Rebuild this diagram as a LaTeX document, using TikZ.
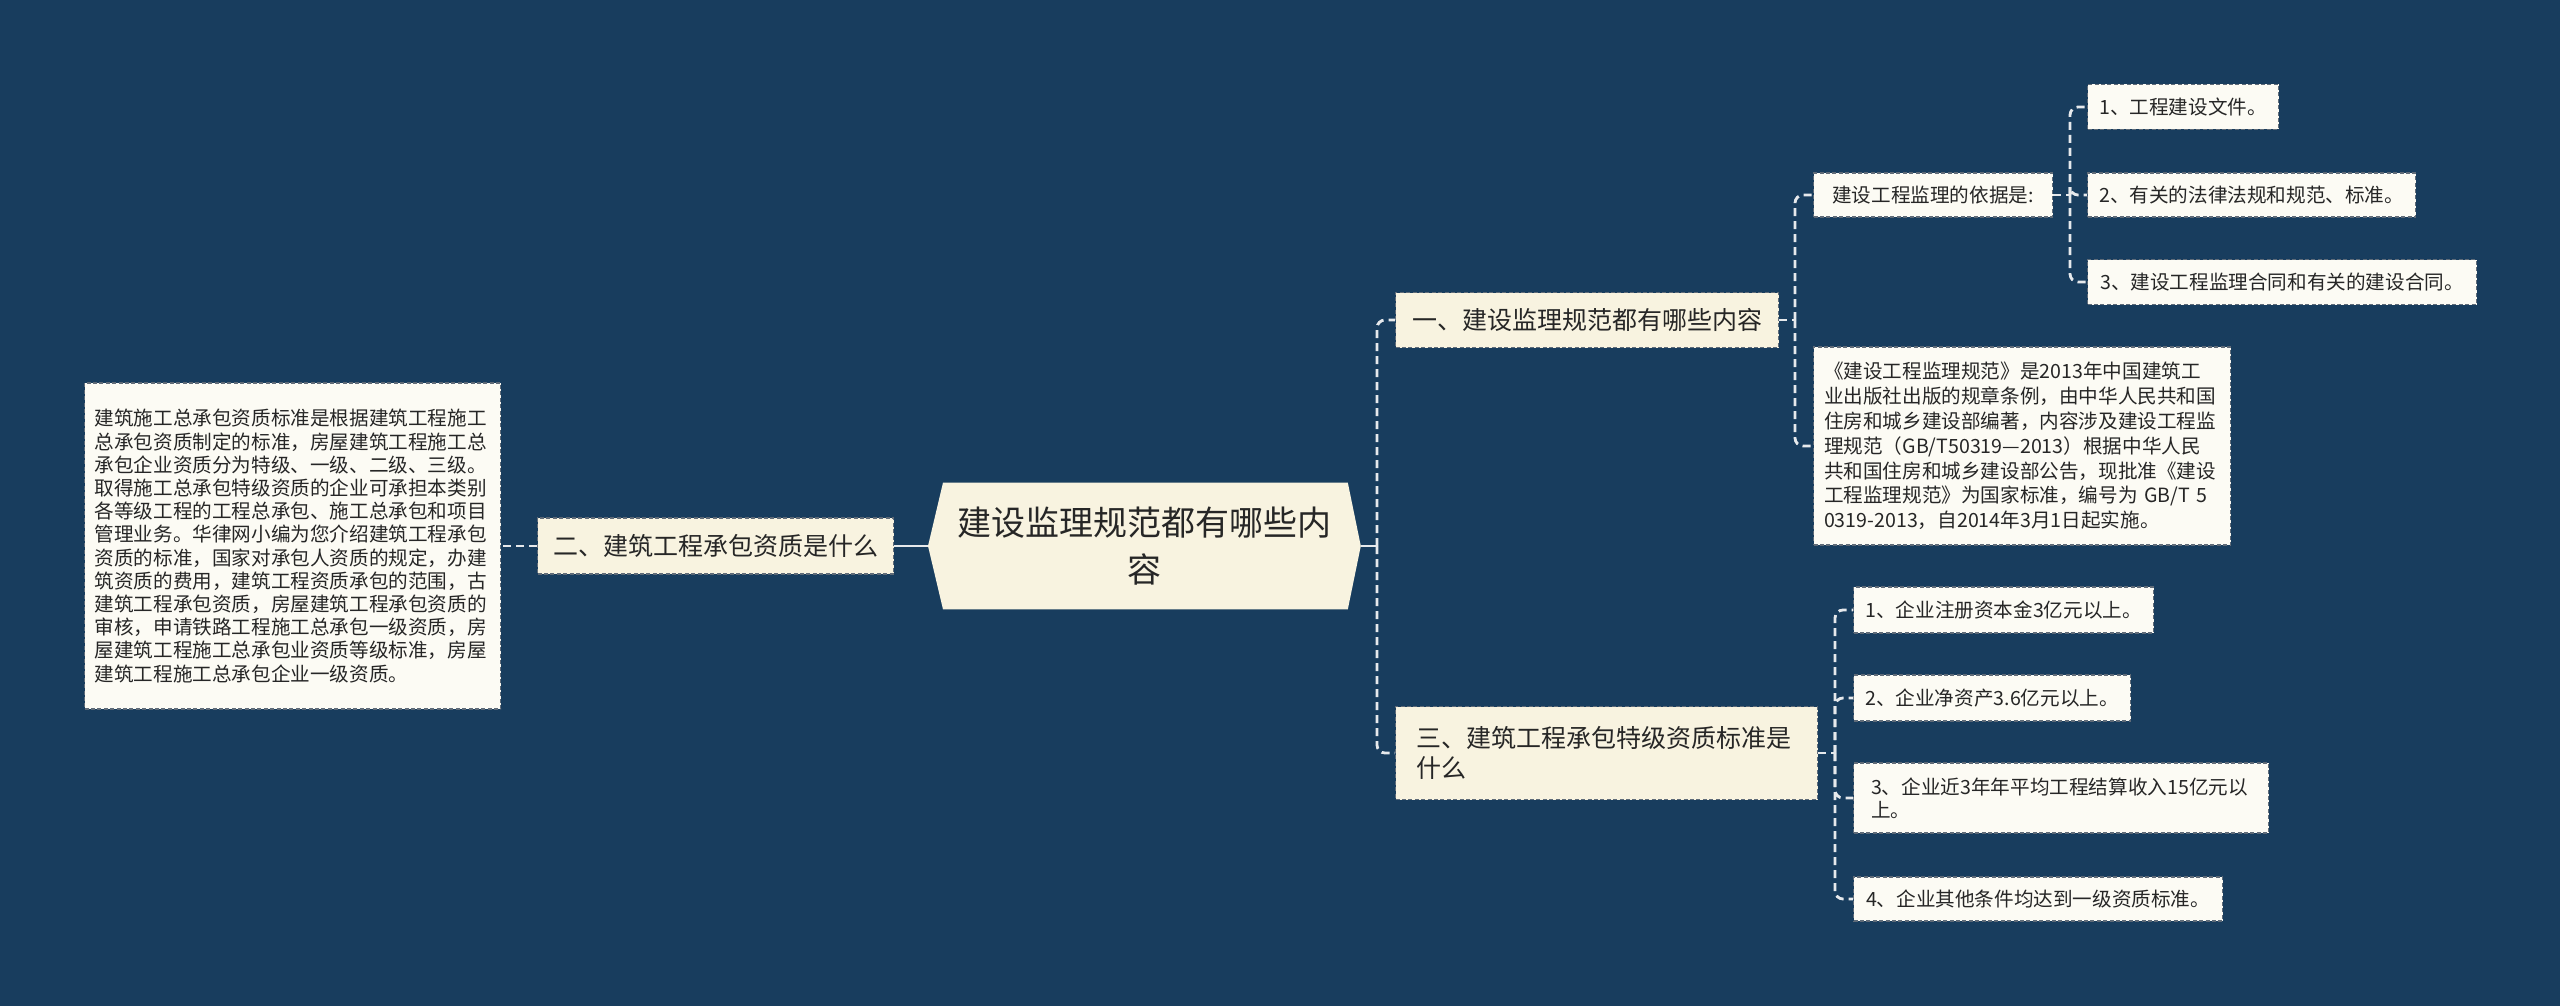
\documentclass[tikz,border=0pt]{standalone}
\usepackage{fontspec}
\setmainfont{Noto Sans CJK SC}
\usepackage{tikz}
\usetikzlibrary{positioning,calc,backgrounds}
\definecolor{bgnavy}{HTML}{183D5E}
\definecolor{cream}{HTML}{F8F3E0}
\definecolor{paper}{HTML}{FCFBF4}
\definecolor{edge}{HTML}{5F6B78}
\definecolor{wire}{HTML}{E6E9EC}
\definecolor{ink}{HTML}{262626}

\begin{document}
\begin{tikzpicture}[x=0.5pt,y=-0.5pt,
  box/.style={anchor=west,inner sep=0pt,text=ink,draw=edge,line width=0.6pt,dash pattern=on 2pt off 1.2pt},
  hub/.style={anchor=west,inner sep=0pt,text=ink,font=\fontsize{17pt}{23.5pt}\selectfont,minimum width=216pt,minimum height=63pt,text width=190pt,align=center},
  topic/.style={box,fill=cream,font=\fontsize{12.5pt}{15pt}\selectfont},
  leaf/.style={box,fill=paper,font=\fontsize{9.8pt}{11.6pt}\selectfont},
  note/.style={leaf,text width=198pt,align=left},
  solidlink/.style={draw=wire,line width=1.4pt},
  dashlink/.style={draw=wire,line width=1.4pt,dash pattern=on 4pt off 2.5pt,rounded corners=4pt}]
  \useasboundingbox (0,0) rectangle (2560,1006);

  % centre and left side
  \node[hub] (root) at (928,546) {建设监理规范都有哪些内\\容};
  \node[topic,minimum width=178pt,minimum height=28pt] (quali) at (537,546) {二、建筑工程承包资质是什么};
  \node[note,minimum height=163pt,inner xsep=5pt,font=\fontsize{9.8pt}{11.6pt}\selectfont] (qualitext) at (84,546) {建筑施工总承包资质标准是根据建筑工程施工\\
总承包资质制定的标准，房屋建筑工程施工总\\
承包企业资质分为特级、一级、二级、三级。\\
取得施工总承包特级资质的企业可承担本类别\\
各等级工程的工程总承包、施工总承包和项目\\
管理业务。华律网小编为您介绍建筑工程承包\\
资质的标准，国家对承包人资质的规定，办建\\
筑资质的费用，建筑工程资质承包的范围，古\\
建筑工程承包资质，房屋建筑工程承包资质的\\
审核，申请铁路工程施工总承包一级资质，房\\
屋建筑工程施工总承包业资质等级标准，房屋\\
建筑工程施工总承包企业一级资质。};

  % right side, first topic
  \node[topic,minimum width=191.5pt,minimum height=27.5pt] (content) at (1395,320) {一、建设监理规范都有哪些内容};
  \node[leaf,minimum width=119.5pt,minimum height=22pt] (basis) at (1813,195) {建设工程监理的依据是:};
  \node[leaf,minimum width=95.5pt,minimum height=22.5pt] (basisA) at (2087,107) {1、工程建设文件。};
  \node[leaf,minimum width=164pt,minimum height=22pt] (basisB) at (2087,195) {2、有关的法律法规和规范、标准。};
  \node[leaf,minimum width=194.5pt,minimum height=22.5pt] (basisC) at (2087,282) {3、建设工程监理合同和有关的建设合同。};
  \node[note,minimum height=99pt,inner xsep=5.25pt,font=\fontsize{9.8pt}{12.4pt}\selectfont] (rulebook) at (1813,446) {《建设工程监理规范》是2013年中国建筑工\\
业出版社出版的规章条例，由中华人民共和国\\
住房和城乡建设部编著，内容涉及建设工程监\\
理规范（GB/T50319—2013）根据中华人民\\
共和国住房和城乡建设部公告，现批准《建设\\
工程监理规范》为国家标准，编号为 GB/T 5\\
0319-2013，自2014年3月1日起实施。};

  % right side, third topic
  \node[topic,minimum width=211pt,minimum height=46.5pt,text width=190pt,align=left,inner xsep=10.5pt] (grade) at (1395,753) {三、建筑工程承包特级资质标准是\\什么};
  \node[leaf,minimum width=150pt,minimum height=23pt] (gradeA) at (1853,610) {1、企业注册资本金3亿元以上。};
  \node[leaf,minimum width=138.5pt,minimum height=23pt] (gradeB) at (1853,698) {2、企业净资产3.6亿元以上。};
  \node[leaf,minimum width=207.5pt,minimum height=35pt,text width=190pt,align=left,inner xsep=8.75pt] (gradeC) at (1853,798) {3、企业近3年年平均工程结算收入15亿元以\\上。};
  \node[leaf,minimum width=184.5pt,minimum height=22pt] (gradeD) at (1853,899) {4、企业其他条件均达到一级资质标准。};

  \begin{scope}[on background layer]
    \fill[bgnavy] (0,0) rectangle (2560,1006);
    \fill[cream] (root.west) -- ($(root.north west)+(15,0)$) -- ($(root.north east)+(-13,0)$) -- (root.east)
      -- ($(root.south east)+(-13,0)$) -- ($(root.south west)+(15,0)$) -- cycle;
  \end{scope}

  \coordinate (rootfork) at (1377,546);
  \coordinate (contentfork) at (1795,320);
  \coordinate (basisfork) at (2070,195);
  \coordinate (gradefork) at (1835,753);

  \draw[solidlink] (root.west) -- (quali.east);
  \draw[dashlink] (quali.west) -- (qualitext.east);
  \draw[solidlink] (root.east) -- (rootfork);
  \draw[dashlink] (rootfork) |- (content.west);
  \draw[dashlink] (rootfork) |- (grade.west);
  \draw[dashlink] (content.east) -- (contentfork);
  \draw[dashlink] (contentfork) |- (basis.west);
  \draw[dashlink] (contentfork) |- (rulebook.west);
  \draw[dashlink] (basis.east) -- (basisfork);
  \foreach \k in {basisA,basisB,basisC} \draw[dashlink] (basisfork) |- (\k.west);
  \draw[dashlink] (grade.east) -- (gradefork);
  \foreach \k in {gradeA,gradeB,gradeC,gradeD} \draw[dashlink] (gradefork) |- (\k.west);
\end{tikzpicture}
\end{document}
